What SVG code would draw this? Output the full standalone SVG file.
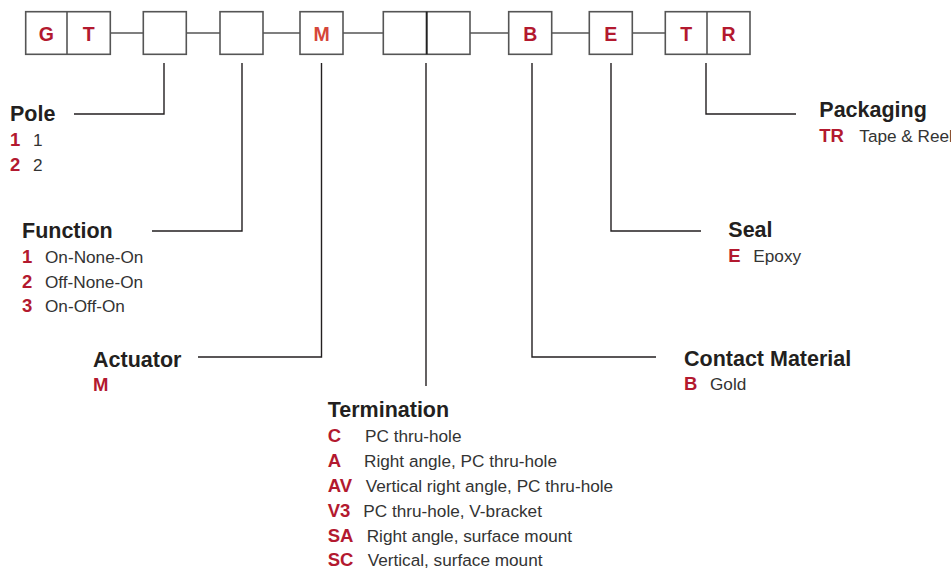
<svg xmlns="http://www.w3.org/2000/svg" width="951" height="569" viewBox="0 0 951 569">
<style>
.box{fill:#fff;stroke:#555;stroke-width:1.6}
.bl{font-family:"Liberation Sans",Arial,sans-serif;font-weight:bold;font-size:19.5px;fill:#b3192f;text-anchor:middle}
.hd{font-family:"Liberation Sans",Arial,sans-serif;font-weight:bold;font-size:21.5px;fill:#231f20}
.cd{font-family:"Liberation Sans",Arial,sans-serif;font-weight:bold;font-size:18.5px;fill:#b3192f}
.ds{font-family:"Liberation Sans",Arial,sans-serif;font-size:17.2px;fill:#333}
.ln{fill:none;stroke:#231f20;stroke-width:1.4}
.cn{fill:none;stroke:#555;stroke-width:1.6}
</style>
<rect width="951" height="569" fill="#fff"/>
<g id="connectors">
<path class="cn" d="M110.3 33H143.3M186.3 33H220M263 33H300M343 33H383.3M470 33H508.7M551.7 33H589.3M632.3 33H665.3"/>
<path class="ln" d="M164 63V114H74"/>
<path class="ln" d="M242 63V231H152"/>
<path class="ln" d="M321.5 63V357H198"/>
<path class="ln" d="M426 63V386"/>
<path class="ln" d="M532 63V357H656"/>
<path class="ln" d="M611 63V231H701"/>
<path class="ln" d="M706 63V114H796"/>
</g>
<g id="box-GT"><rect class="box" x="25.7" y="11.7" width="84.6" height="42.6"/><line class="cn" x1="67" y1="11.7" x2="67" y2="54.3"/><text class="bl" x="46.3" y="41">G</text><text class="bl" x="88.7" y="41">T</text></g>
<g id="box-pole"><rect class="box" x="143.3" y="11.7" width="43" height="42.6"/></g>
<g id="box-function"><rect class="box" x="220" y="11.7" width="43" height="42.6"/></g>
<g id="box-actuator"><rect class="box" x="300" y="11.7" width="43" height="42.6"/><text class="bl" x="321.5" y="41" style="fill:#d5463a">M</text></g>
<g id="box-termination"><rect class="box" x="383.3" y="11.7" width="86.7" height="42.6"/><line x1="426.7" y1="11.7" x2="426.7" y2="54.3" stroke="#222" stroke-width="2"/></g>
<g id="box-contact"><rect class="box" x="508.7" y="11.7" width="43" height="42.6"/><text class="bl" x="530.2" y="41">B</text></g>
<g id="box-seal"><rect class="box" x="589.3" y="11.7" width="43" height="42.6"/><text class="bl" x="610.8" y="41">E</text></g>
<g id="box-packaging"><rect class="box" x="665.3" y="11.7" width="84.7" height="42.6"/><line class="cn" x1="707" y1="11.7" x2="707" y2="54.3"/><text class="bl" x="686.2" y="41">T</text><text class="bl" x="728.5" y="41">R</text></g>
<g id="pole">
<text class="hd" x="10" y="121">Pole</text>
<text class="cd" x="10" y="146">1</text><text class="ds" x="33" y="146">1</text>
<text class="cd" x="10" y="170.5">2</text><text class="ds" x="33" y="170.5">2</text>
</g>
<g id="function">
<text class="hd" x="22" y="238">Function</text>
<text class="cd" x="22" y="263">1</text><text class="ds" x="45" y="263">On-None-On</text>
<text class="cd" x="22" y="287.5">2</text><text class="ds" x="45" y="287.5">Off-None-On</text>
<text class="cd" x="22" y="312">3</text><text class="ds" x="45" y="312">On-Off-On</text>
</g>
<g id="actuator">
<text class="hd" x="93" y="367">Actuator</text>
<text class="cd" x="93" y="391">M</text>
</g>
<g id="termination">
<text class="hd" x="327.7" y="417.3">Termination</text>
<text class="cd" x="327.7" y="441.7">C</text><text class="ds" x="365" y="441.7">PC thru-hole</text>
<text class="cd" x="327.7" y="466.7">A</text><text class="ds" x="364" y="466.7">Right angle, PC thru-hole</text>
<text class="cd" x="327.7" y="491.7">AV</text><text class="ds" x="365.7" y="491.7">Vertical right angle, PC thru-hole</text>
<text class="cd" x="327.7" y="516.7">V3</text><text class="ds" x="363.3" y="516.7">PC thru-hole, V-bracket</text>
<text class="cd" x="327.7" y="541.7">SA</text><text class="ds" x="366.7" y="541.7">Right angle, surface mount</text>
<text class="cd" x="327.7" y="565.7">SC</text><text class="ds" x="367.7" y="565.7">Vertical, surface mount</text>
</g>
<g id="contact-material">
<text class="hd" x="684" y="366">Contact Material</text>
<text class="cd" x="684" y="390">B</text><text class="ds" x="710" y="390">Gold</text>
</g>
<g id="seal">
<text class="hd" x="728.3" y="236.7">Seal</text>
<text class="cd" x="728.3" y="261.7">E</text><text class="ds" x="753.3" y="261.7">Epoxy</text>
</g>
<g id="packaging">
<text class="hd" x="819.3" y="117.3">Packaging</text>
<text class="cd" x="819.3" y="141.7">TR</text><text class="ds" x="859.3" y="141.7">Tape &amp; Reel</text>
</g>
</svg>
